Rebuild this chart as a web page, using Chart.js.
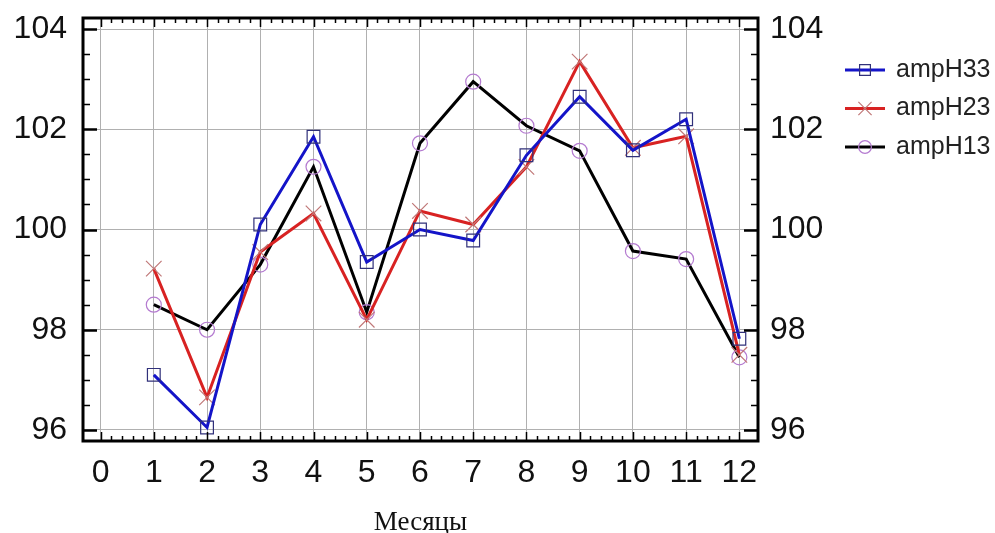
<!DOCTYPE html>
<html>
<head>
<meta charset="utf-8">
<script src="https://cdn.jsdelivr.net/npm/chart.js@4/dist/chart.umd.min.js"></script>
<style>
  body { margin: 0; background: #fff; }
  #wrap { width: 995px; height: 533px; }
</style>
</head>
<body>
<div id="wrap"><canvas id="grafico" width="995" height="533"></canvas></div>
<script>
// Месяцы 1..12
const meses = [1, 2, 3, 4, 5, 6, 7, 8, 9, 10, 11, 12];
const ampH33 = [97.1, 96.05, 100.1, 101.85, 99.35, 100.0, 99.78, 101.48, 102.65, 101.58, 102.2, 97.82];
const ampH23 = [99.22, 96.65, 99.55, 100.32, 98.2, 100.37, 100.1, 101.25, 103.35, 101.63, 101.86, 97.5];
const ampH13 = [98.5, 98.0, 99.3, 101.25, 98.35, 101.72, 102.95, 102.07, 101.57, 99.57, 99.41, 97.45];
const xTicks = [0, 1, 2, 3, 4, 5, 6, 7, 8, 9, 10, 11, 12];
const yTicks = [96, 98, 100, 102, 104];

const series = [
  { label: "ampH33", data: ampH33, line: "#1414c8", mark: "#30307a", style: "rect", r: 9 },
  { label: "ampH23", data: ampH23, line: "#d82222", mark: "#c07878", style: "crossRot", r: 11 },
  { label: "ampH13", data: ampH13, line: "#000000", mark: "#b47ad0", style: "circle", r: 7.5 }
];

const fontSans = "'Liberation Sans', Arial, sans-serif";

// рамка, засечки и легенда
const framePlugin = {
  id: "frame",
  afterDraw(chart) {
    const ctx = chart.ctx;
    const a = chart.chartArea;
    const x = chart.scales.x, y = chart.scales.y;
    ctx.save();
    ctx.strokeStyle = "#000";
    ctx.lineWidth = 1.5;
    // засечки по X (шаг 0.2)
    for (let v = 0; v <= 12.001; v += 0.2) {
      const px = Math.round(x.getPixelForValue(v)) + 0.5;
      const major = Math.abs(v - Math.round(v)) < 0.01;
      const len = major ? 9 : 5;
      ctx.beginPath();
      ctx.moveTo(px, a.bottom); ctx.lineTo(px, a.bottom - len);
      ctx.moveTo(px, a.top); ctx.lineTo(px, a.top + len);
      ctx.stroke();
    }
    // засечки по Y (шаг 0.5)
    for (let v = 96; v <= 104.001; v += 0.5) {
      const py = Math.round(y.getPixelForValue(v)) + 0.5;
      const major = Math.abs(v / 2 - Math.round(v / 2)) < 0.01;
      const len = major ? 14 : 7;
      ctx.lineWidth = major ? 2.5 : 1.5;
      ctx.beginPath();
      ctx.moveTo(a.left, py); ctx.lineTo(a.left + len, py);
      ctx.moveTo(a.right, py); ctx.lineTo(a.right - len, py);
      ctx.stroke();
    }
    ctx.lineWidth = 3;
    ctx.strokeRect(a.left, a.top, a.right - a.left, a.bottom - a.top);

    // легенда
    ctx.font = "25px " + fontSans;
    ctx.textBaseline = "middle";
    series.forEach((s, i) => {
      const ly = 70 + i * 38.5;
      ctx.strokeStyle = s.line;
      ctx.lineWidth = 3;
      ctx.beginPath();
      ctx.moveTo(845, ly); ctx.lineTo(885, ly);
      ctx.stroke();
      ctx.strokeStyle = s.mark;
      ctx.fillStyle = "rgba(0,0,0,0)";
      ctx.lineWidth = 1.2;
      Chart.helpers.drawPoint(ctx, { pointStyle: s.style, radius: s.r * 0.85, borderWidth: 1.2, rotation: 0 }, 865, ly);
      ctx.fillStyle = "#222";
      ctx.fillText(s.label, 896, ly);
    });
    ctx.restore();
  }
};

const fitY = w => sc => { sc.width = w; sc.paddingTop = 0; sc.paddingBottom = 0; };

new Chart(document.getElementById("grafico"), {
  type: "line",
  data: {
    datasets: series.map(s => ({
      label: s.label,
      data: meses.map((m, i) => ({ x: m, y: s.data[i] })),
      borderColor: s.line,
      borderWidth: 3,
      pointStyle: s.style,
      pointRadius: s.r,
      pointBorderColor: s.mark,
      pointBorderWidth: 1.2,
      pointBackgroundColor: "transparent",
      tension: 0,
      clip: false
    }))
  },
  options: {
    responsive: false,
    animation: false,
    layout: { autoPadding: false, padding: { top: 18, left: 0, right: 0, bottom: 0 } },
    plugins: { legend: { display: false }, tooltip: { enabled: false } },
    scales: {
      x: {
        type: "linear",
        min: -0.33,
        max: 12.35,
        afterBuildTicks: sc => { sc.ticks = xTicks.map(v => ({ value: v })); },
        afterFit: sc => { sc.height = 92; sc.paddingLeft = 0; sc.paddingRight = 0; },
        grid: { color: "#b0b0b0", lineWidth: 1, drawTicks: false },
        border: { display: false },
        ticks: { font: { size: 32, family: fontSans }, color: "#111", padding: 13, maxRotation: 0, autoSkip: false },
        title: {
          display: true,
          text: "Месяцы",
          font: { size: 27, family: "'Liberation Serif', 'Times New Roman', serif", lineHeight: 1 },
          color: "#111",
          padding: { top: 0, bottom: -3 }
        }
      },
      y: {
        position: "left",
        min: 95.78,
        max: 104.22,
        afterBuildTicks: sc => { sc.ticks = yTicks.map(v => ({ value: v })); },
        afterFit: fitY(83),
        grid: { color: "#b0b0b0", lineWidth: 1, drawTicks: false },
        border: { display: false },
        ticks: { font: { size: 32, family: fontSans }, color: "#111", padding: 16 }
      },
      y2: {
        position: "right",
        min: 95.78,
        max: 104.22,
        afterBuildTicks: sc => { sc.ticks = yTicks.map(v => ({ value: v })); },
        afterFit: fitY(237),
        grid: { drawOnChartArea: false, drawTicks: false },
        border: { display: false },
        ticks: { font: { size: 32, family: fontSans }, color: "#111", padding: 12 }
      }
    }
  },
  plugins: [framePlugin]
});
</script>
</body>
</html>
